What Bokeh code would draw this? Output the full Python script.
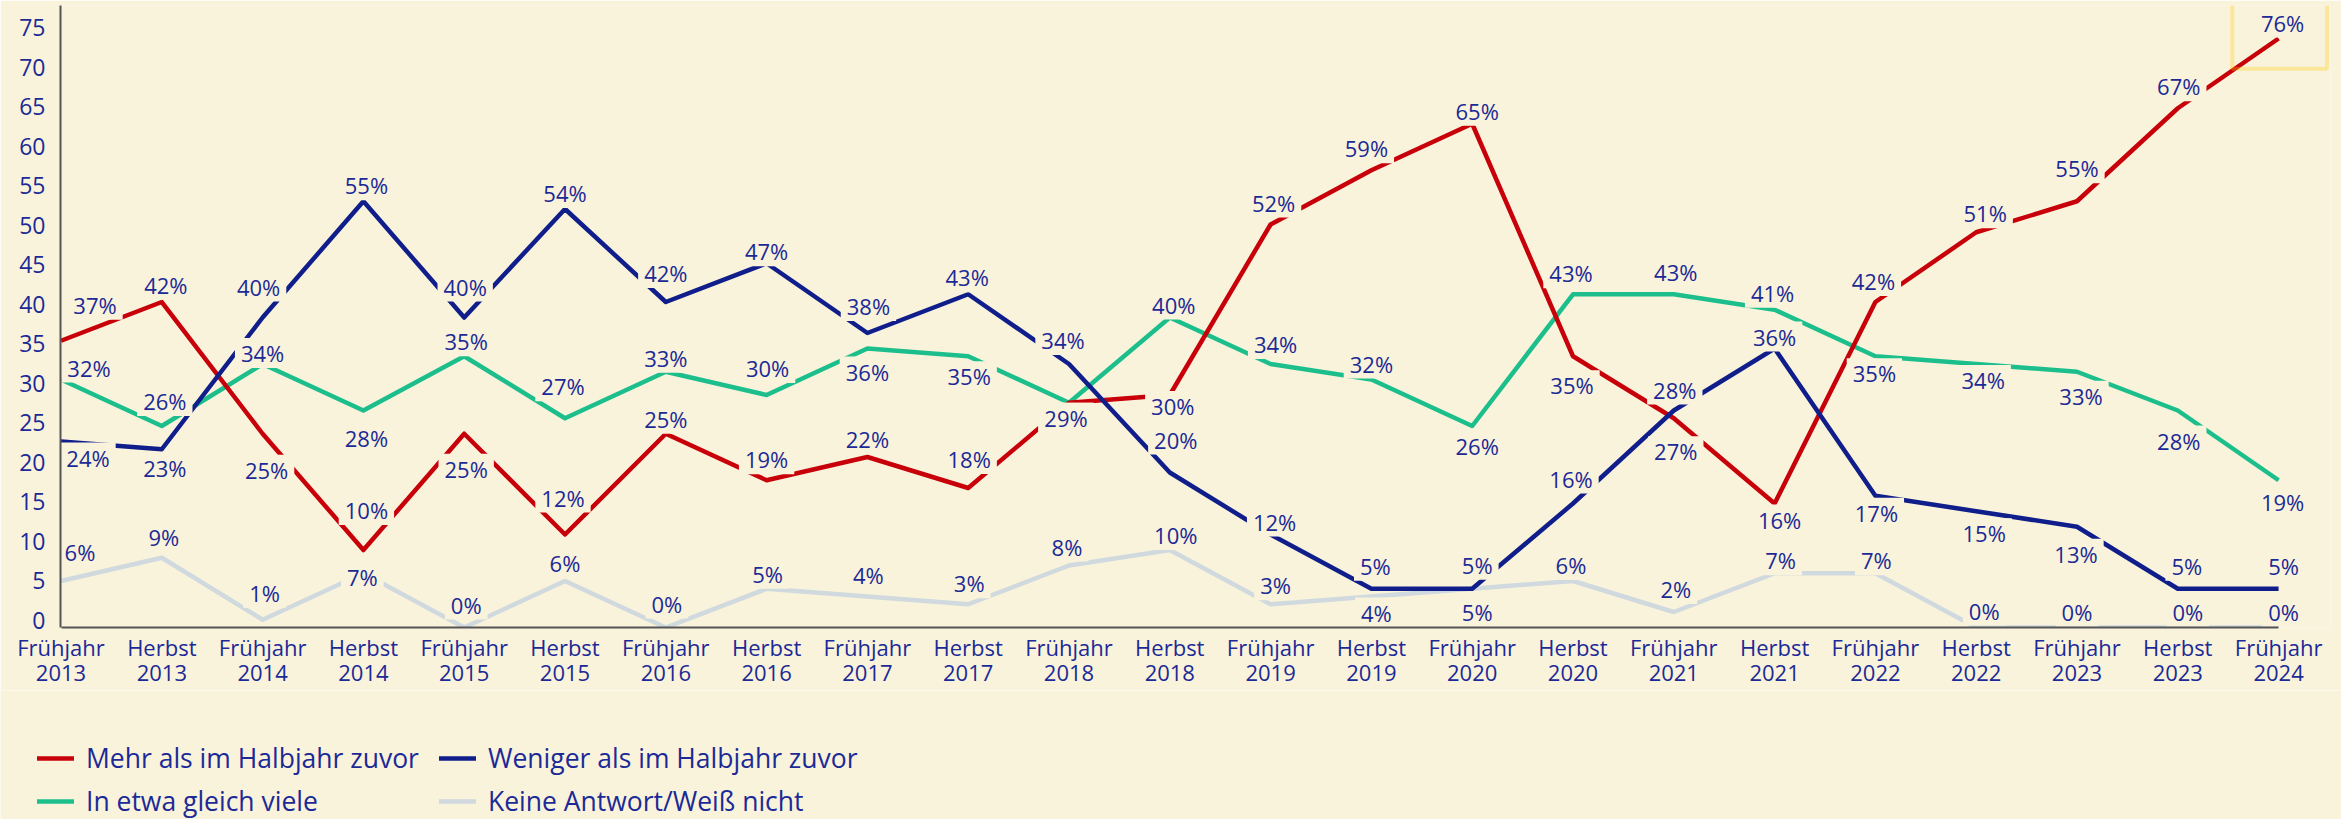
from bokeh.plotting import figure
from bokeh.layouts import column
from bokeh.models import (Range1d, LinearAxis, FixedTicker, ColumnDataSource,
                          Legend, LegendItem, BoxAnnotation)
from bokeh.embed import file_html
from bokeh.resources import INLINE
from bokeh.core.properties import value

# ---------------- data ----------------
periods = ["Frühjahr\n2013", "Herbst\n2013", "Frühjahr\n2014", "Herbst\n2014",
           "Frühjahr\n2015", "Herbst\n2015", "Frühjahr\n2016", "Herbst\n2016",
           "Frühjahr\n2017", "Herbst\n2017", "Frühjahr\n2018", "Herbst\n2018",
           "Frühjahr\n2019", "Herbst\n2019", "Frühjahr\n2020", "Herbst\n2020",
           "Frühjahr\n2021", "Herbst\n2021", "Frühjahr\n2022", "Herbst\n2022",
           "Frühjahr\n2023", "Herbst\n2023", "Frühjahr\n2024"]

mehr = [37, 42, 25, 10, 25, 12, 25, 19, 22, 18, 29, 30, 52, 59, 65, 35, 27, 16, 42, 51, 55, 67, 76]
weniger = [24, 23, 40, 55, 40, 54, 42, 47, 38, 43, 34, 20, 12, 5, 5, 16, 28, 36, 17, 15, 13, 5, 5]
gleich = [32, 26, 34, 28, 35, 27, 33, 30, 36, 35, 29, 40, 34, 32, 26, 43, 43, 41, 35, 34, 33, 28, 19]
keine = [6, 9, 1, 7, 0, 6, 0, 5, 4, 3, 8, 10, 3, 4, 5, 6, 2, 7, 7, 0, 0, 0, 0]

series_names = ["Mehr als im Halbjahr zuvor", "Weniger als im Halbjahr zuvor",
                "In etwa gleich viele", "Keine Antwort/Weiß nicht"]
y_ticks = list(range(0, 80, 5))

# ---------------- label placement (screen px offsets) ----------------
mehr_dx = [34, 4, 4, 3, 2, -2, 0, 0, 0, 1, -3, 3, 3, -5, 5, -1, 2, 5, -2, 9, 0, 1, 4]
mehr_dy = [-36, -17, 36, -40, 35, -37, -15, -21, -18, -29, 15, 11, -22, -22, -13, 29, 33, 16, -21, -19, -33, -22, -16]
weniger_dx = [27, 3, -4, 3, 1, 0, 0, 0, 1, -1, -6, 6, 4, 4, 5, -2, 1, 0, 1, 8, -1, 9, 5]
weniger_dy = [16, 19, -31, -16, -31, -16, -29, -12, -27, -17, -24, -33, -13, -23, -24, -25, -21, -12, 17, 22, 27, -23, -23]
gleich_dx = [28, 3, 0, 3, 2, -2, 0, 1, 0, 1, -3, 4, 5, 0, 5, -2, 2, -2, -1, 7, 4, 1, 4]
gleich_dy = [-12, -25, -11, 27, -15, -32, -14, -27, 23, 20, 15, -13, -20, -16, 20, -21, -22, -17, 17, 16, 24, 30, 22]
keine_dx = [19, 2, 2, -1, 2, 0, 1, 1, 1, 1, -2, 6, 5, 5, 5, -2, 2, 6, 1, 8, 0, 10, 5]
keine_dy = [-29, -21, -27, 4, -23, -18, -24, -15, -22, -21, -19, -15, -19, 16, 23, -16, -23, -13, -13, -17, -16, -16, -16]

# ---------------- style ----------------
BG = "#FAF3DC"
TEXT = "#1B2A96"
RED = "#C8000A"
NAVY = "#0F1E8A"
GREEN = "#1CBF8C"
LGRAY = "#CFD9DE"
AXIS = "#555555"
YELLOW = "#FFCC00"
FONT = "Open Sans"
LW = 4.5

n = len(periods)
idx = list(range(n))

p = figure(width=2341, height=690,
           x_range=Range1d(-0.005, 22.515), y_range=Range1d(0, 80.26),
           output_backend="svg", toolbar_location=None, y_axis_location=None,
           min_border_left=60, min_border_right=11, min_border_top=5,
           min_border_bottom=61,
           background_fill_color=BG, border_fill_color=BG,
           outline_line_color=None)
p.grid.visible = False
p.frame_align = False

# y axis (tick positions as in the original layout)
p.extra_y_ranges = {"ticks": Range1d(-0.95, 77.84)}
yax = LinearAxis(y_range_name="ticks", ticker=FixedTicker(ticks=y_ticks))
yax.axis_line_color = AXIS
yax.axis_line_width = 2
yax.major_tick_line_color = None
yax.minor_tick_line_color = None
yax.major_tick_out = 0
yax.major_tick_in = 0
yax.major_label_standoff = 15
yax.major_label_text_font = FONT
yax.major_label_text_font_size = "23px"
yax.major_label_text_color = TEXT
p.add_layout(yax, "left")

# x axis
xax = p.xaxis[0]
xax.ticker = FixedTicker(ticks=idx)
xax.major_label_overrides = {i: lab for i, lab in enumerate(periods)}
xax.bounds = (0, n - 1)
xax.axis_line_color = AXIS
xax.axis_line_width = 2
xax.major_tick_line_color = None
xax.minor_tick_line_color = None
xax.major_tick_out = 0
xax.major_tick_in = 0
xax.major_label_standoff = 4
xax.major_label_text_font = FONT
xax.major_label_text_font_size = "22px"
xax.major_label_text_line_height = 0.85
xax.major_label_text_color = TEXT

# lines
r_gray = p.line(idx, keine, line_color=LGRAY, line_width=LW, line_join="round")
r_green = p.line(idx, gleich, line_color=GREEN, line_width=LW, line_join="round")
r_red = p.line(idx, mehr, line_color=RED, line_width=LW, line_join="round")
r_blue = p.line(idx, weniger, line_color=NAVY, line_width=LW, line_join="round")

# value labels
xs, ys, txt, dxs, dys = [], [], [], [], []
for vals, dx, dy in [(keine, keine_dx, keine_dy), (gleich, gleich_dx, gleich_dy),
                     (mehr, mehr_dx, mehr_dy), (weniger, weniger_dx, weniger_dy)]:
    for i, v in enumerate(vals):
        xs.append(i); ys.append(v); txt.append(f"{v}%")
        dxs.append(dx[i]); dys.append(dy[i])
src = ColumnDataSource(dict(x=xs, y=ys, text=txt, dx=dxs, dy=dys))
p.text(x="x", y="y", text="text", x_offset="dx", y_offset="dy", source=src,
       text_align="center", text_baseline="middle",
       text_font=value(FONT), text_font_size="22px", text_color=TEXT,
       background_fill_color=BG,
       padding=dict(left=6, right=6, top=0, bottom=0))

# highlight of the latest value
last = n - 1
box = BoxAnnotation(left=last - 0.46, right=last + 0.48, bottom=mehr[last] - 3.9,
                    top=mehr[last] + 15,
                    fill_alpha=0, line_color=YELLOW, line_width=4)
p.add_layout(box)

# ---------------- legend strip ----------------
lg = figure(width=2341, height=129, x_range=Range1d(0, 1), y_range=Range1d(0, 1),
            output_backend="svg", toolbar_location=None,
            x_axis_location=None, y_axis_location=None,
            min_border_left=0, min_border_right=0, min_border_top=0,
            min_border_bottom=0,
            background_fill_color=BG, border_fill_color=BG,
            outline_line_color=None)
lg.grid.visible = False
lg.frame_align = False
colors = [RED, NAVY, GREEN, LGRAY]
# legend keys only: the points lie outside the visible range
dummies = [lg.line(x=[-5, -4], y=[-5, -5], line_color=c, line_width=LW,
                   line_cap="round") for c in colors]
legend = Legend(items=[LegendItem(label=series_names[0], renderers=[dummies[0]]),
                       LegendItem(label=series_names[2], renderers=[dummies[2]]),
                       LegendItem(label=series_names[1], renderers=[dummies[1]]),
                       LegendItem(label=series_names[3], renderers=[dummies[3]])],
                location=(37, 0), orientation="vertical", ncols=2)
legend.label_text_font = FONT
legend.label_text_font_size = "26.5px"
legend.label_text_color = TEXT
legend.glyph_width = 37
legend.glyph_height = 30
legend.label_height = 30
legend.label_width = 346
legend.label_standoff = 12
legend.spacing = 7
legend.padding = 0
legend.margin = 0
legend.border_line_color = None
legend.background_fill_alpha = 0
lg.add_layout(legend)

layout = column(p, lg, spacing=0)

open("out.html", "w").write(file_html(layout, INLINE))
